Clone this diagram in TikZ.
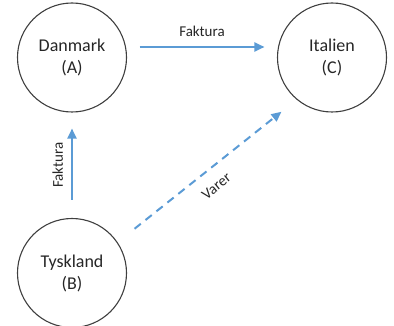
\documentclass[tikz,border=0pt]{standalone}
\usepackage{fontspec}
\setmainfont{Carlito}
\usetikzlibrary{arrows.meta}
\definecolor{flowblue}{HTML}{5B9BD5}
\definecolor{ringgray}{HTML}{3F3F3F}
\tikzset{
  land/.style={circle,draw=ringgray,line width=1.1pt,minimum size=109pt,
    inner sep=0pt,align=center,font=\fontsize{18}{22}\selectfont,text=black!85},
  flow/.style={draw=flowblue,line width=2pt,-{Triangle[length=10pt,width=9pt]}},
  flowlabel/.style={font=\fontsize{15}{18}\selectfont,text=black!85}
}
\begin{document}
\begin{tikzpicture}[x=1pt,y=-1pt]
\useasboundingbox (0,0) rectangle (394,326);
\node[land] (dk) at (72,57.5) {Danmark\\(A)};
\node[land] (it) at (332,57.5) {Italien\\(C)};
\node[land] (tk) at (72,273) {Tyskland\\(B)};
\draw[flow,shorten <=13.5pt,shorten >=13.5pt] (dk.11) --
  node[flowlabel,midway,above=6.5pt] {Faktura} (it.169);
\draw[flow,shorten <=18pt,shorten >=16pt] (tk.north) --
  node[flowlabel,midway,sloped,above=4.7pt] {Faktura} (dk.south);
\draw[flow,dash pattern=on 8pt off 6pt,shorten <=21.6pt,shorten >=19.4pt]
  (tk.34) -- node[flowlabel,pos=.49,sloped,below=8.4pt] {Varer} (it.230);
\end{tikzpicture}
\end{document}
